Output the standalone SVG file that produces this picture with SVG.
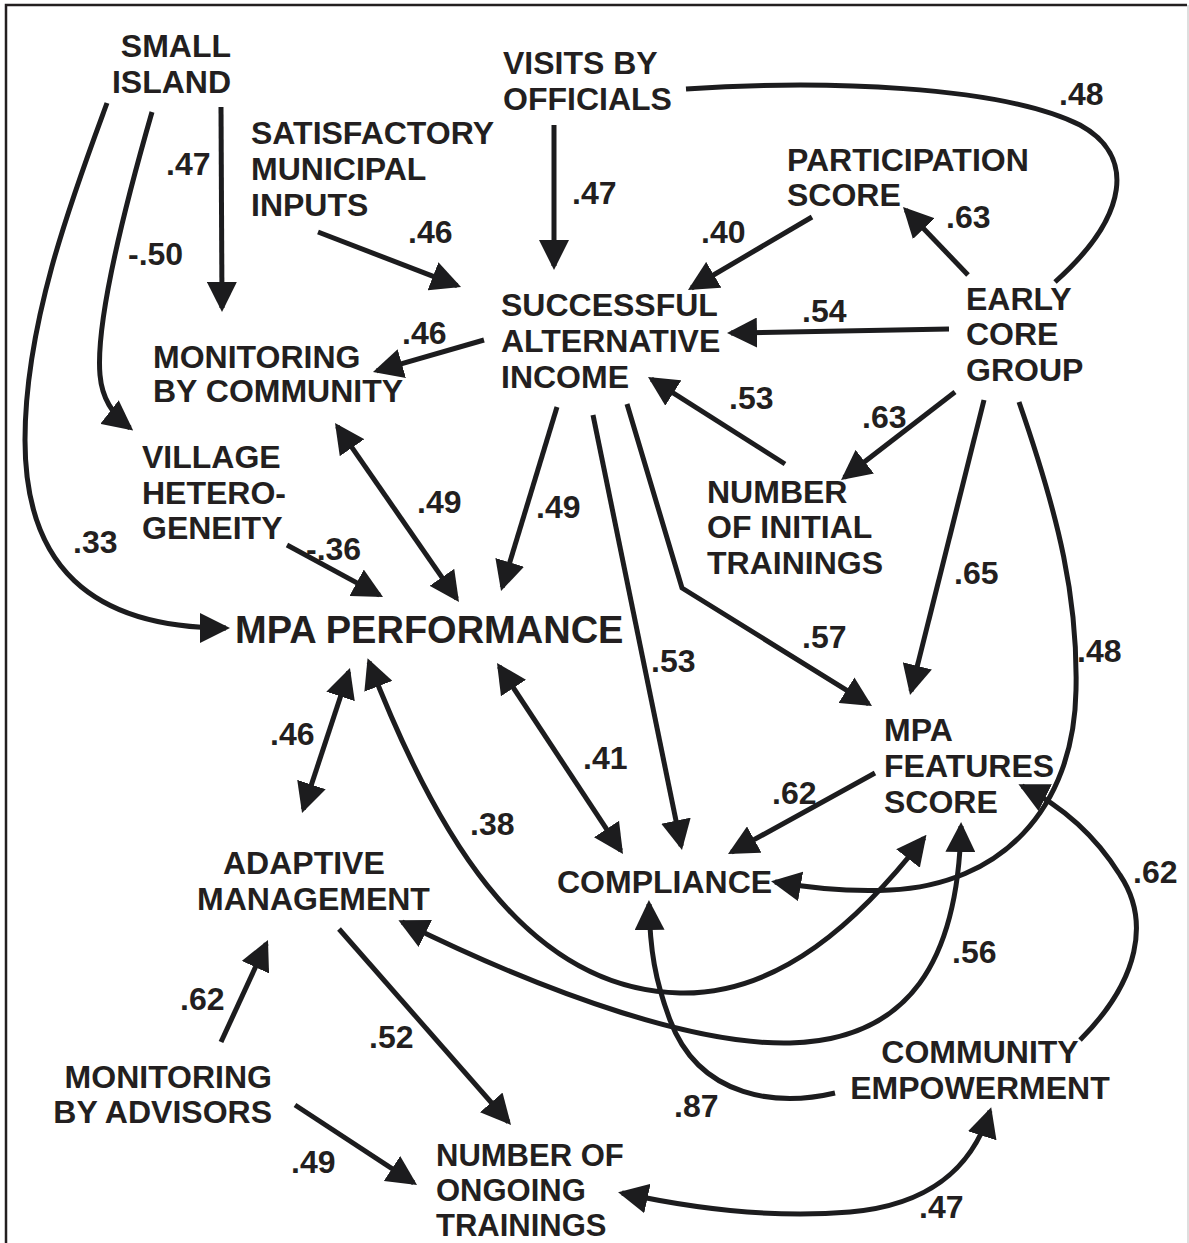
<svg xmlns="http://www.w3.org/2000/svg" width="1189" height="1243" viewBox="0 0 1189 1243">
<style>
text{font-family:"Liberation Sans",Arial,sans-serif;font-weight:bold;fill:#231f20;font-size:32px}
.big{font-size:38px}
.sm{font-size:31px}
.end{text-anchor:end}
.mid{text-anchor:middle}
.c{fill:none;stroke:#1c1c1e;stroke-width:5}
.a{marker-end:url(#ah)}
.b{marker-start:url(#ah);marker-end:url(#ah)}
</style>
<defs>
<marker id="ah" markerUnits="userSpaceOnUse" markerWidth="30" markerHeight="30" viewBox="0 0 30 30" refX="26" refY="15" orient="auto-start-reverse">
<path d="M0,0 L30,15 L0,30 z" fill="#1c1c1e"/>
</marker>
</defs>
<rect x="0" y="0" width="1189" height="1243" fill="#fff"/>
<path d="M6,1243 V5 H1187" fill="none" stroke="#231f20" stroke-width="2.5"/>
<line x1="1188" y1="5" x2="1188" y2="1243" stroke="#bdbdbd" stroke-width="1"/>

<g id="n-small-island"><text class="end" x="231" y="57">SMALL</text><text class="end" x="231" y="93">ISLAND</text></g>
<g id="n-visits-officials"><text x="503" y="74">VISITS BY</text><text x="503" y="110">OFFICIALS</text></g>
<g id="n-satisfactory-inputs"><text x="251" y="144">SATISFACTORY</text><text x="251" y="180">MUNICIPAL</text><text x="251" y="216">INPUTS</text></g>
<g id="n-participation"><text x="787" y="171">PARTICIPATION</text><text x="787" y="206">SCORE</text></g>
<g id="n-successful-income"><text x="501" y="316">SUCCESSFUL</text><text x="501" y="352">ALTERNATIVE</text><text x="501" y="388">INCOME</text></g>
<g id="n-early-core"><text x="966" y="310">EARLY</text><text x="966" y="345">CORE</text><text x="966" y="381">GROUP</text></g>
<g id="n-monitoring-community"><text x="153" y="368">MONITORING</text><text x="153" y="402">BY COMMUNITY</text></g>
<g id="n-village"><text x="142" y="468">VILLAGE</text><text x="142" y="504">HETERO-</text><text x="142" y="539">GENEITY</text></g>
<g id="n-initial-trainings"><text x="707" y="503">NUMBER</text><text x="707" y="538">OF INITIAL</text><text x="707" y="574">TRAININGS</text></g>
<g id="n-mpa-performance"><text class="big" x="235" y="643">MPA PERFORMANCE</text></g>
<g id="n-features"><text x="884" y="741">MPA</text><text x="884" y="777">FEATURES</text><text x="884" y="813">SCORE</text></g>
<g id="n-compliance"><text x="557" y="893">COMPLIANCE</text></g>
<g id="n-adaptive"><text x="223" y="874">ADAPTIVE</text><text x="197" y="910">MANAGEMENT</text></g>
<g id="n-advisors"><text class="end" x="272" y="1088">MONITORING</text><text class="end" x="272" y="1123">BY ADVISORS</text></g>
<g id="n-ongoing"><text class="sm" x="436" y="1166">NUMBER OF</text><text class="sm" x="436" y="1201">ONGOING</text><text class="sm" x="436" y="1236">TRAININGS</text></g>
<g id="n-empowerment"><text class="mid" x="980" y="1063">COMMUNITY</text><text class="mid" x="980" y="1099">EMPOWERMENT</text></g>

<g id="labels">
<text x="166" y="175">.47</text>
<text x="128" y="265">-.50</text>
<text x="73" y="553">.33</text>
<text x="572" y="204">.47</text>
<text x="1059" y="105">.48</text>
<text x="408" y="243">.46</text>
<text x="701" y="243">.40</text>
<text x="946" y="228">.63</text>
<text x="802" y="322">.54</text>
<text x="402" y="344">.46</text>
<text x="729" y="409">.53</text>
<text x="862" y="428">.63</text>
<text x="954" y="584">.65</text>
<text x="1077" y="662">.48</text>
<text x="536" y="518">.49</text>
<text x="651" y="672">.53</text>
<text x="802" y="648">.57</text>
<text x="417" y="513">.49</text>
<text x="306" y="560">-.36</text>
<text x="270" y="745">.46</text>
<text x="470" y="835">.38</text>
<text x="583" y="769">.41</text>
<text x="772" y="804">.62</text>
<text x="952" y="963">.56</text>
<text x="674" y="1117">.87</text>
<text x="1133" y="883">.62</text>
<text x="180" y="1010">.62</text>
<text x="369" y="1048">.52</text>
<text x="291" y="1173">.49</text>
<text x="919" y="1218">.47</text>
</g>

<g id="connectors">
<path class="c a" d="M221,107 L222,308"/>
<path class="c a" d="M152,112 C118,230 96,330 100,375 C102,398 112,414 130,428"/>
<path class="c a" d="M107,103 C75,190 25,320 25,440 C25,565 90,628 226,628"/>
<path class="c a" d="M554,125 L554,266"/>
<path class="c" d="M686,89 C820,80 1000,85 1080,125 C1135,155 1130,215 1055,282"/>
<path class="c a" d="M318,232 L457.3,285.6"/>
<path class="c a" d="M812,217 L691.4,288"/>
<path class="c a" d="M968,275 L905.8,209.9"/>
<path class="c a" d="M949,329 L731,333"/>
<path class="c a" d="M484,340 L376.8,370.9"/>
<path class="c a" d="M785,464 L651.4,379.1"/>
<path class="c a" d="M955,392 L844.2,477.6"/>
<path class="c a" d="M984,400 L911,691.1"/>
<path class="c a" d="M1019,402 C1060,520 1078,600 1076,690 C1074,810 1000,885 890,890 C850,892 810,888 775,882"/>
<path class="c a" d="M557,407 L502.2,587.2"/>
<path class="c a" d="M593,415 L681.2,846.1"/>
<path class="c a" d="M627,404 L682,588 L868.6,703.9"/>
<path class="c b" d="M337.3,426.3 L456.7,598.7"/>
<path class="c a" d="M287,545 L379.5,595.1"/>
<path class="c b" d="M348.7,671.8 L303.3,809.2"/>
<path class="c b" d="M369,662 C430,820 520,990 680,993 C780,995 860,920 924,838"/>
<path class="c b" d="M499.2,666.3 L620.8,850.7"/>
<path class="c a" d="M875,773 L731.5,852.1"/>
<path class="c b" d="M402,922 C560,1000 700,1045 790,1043 C910,1040 958,960 961,826"/>
<path class="c a" d="M835,1093 C780,1106 700,1100 670,1020 C655,980 650,950 649,904"/>
<path class="c a" d="M1080,1040 C1140,980 1150,920 1120,875 C1095,835 1060,805 1022,786"/>
<path class="c a" d="M221,1042 L266.3,943.6"/>
<path class="c a" d="M339,929 L508.4,1122"/>
<path class="c a" d="M295,1105 L413.7,1182.8"/>
<path class="c b" d="M622,1193 C700,1210 780,1218 850,1212 C930,1205 972,1168 990,1111"/>
</g>
</svg>
